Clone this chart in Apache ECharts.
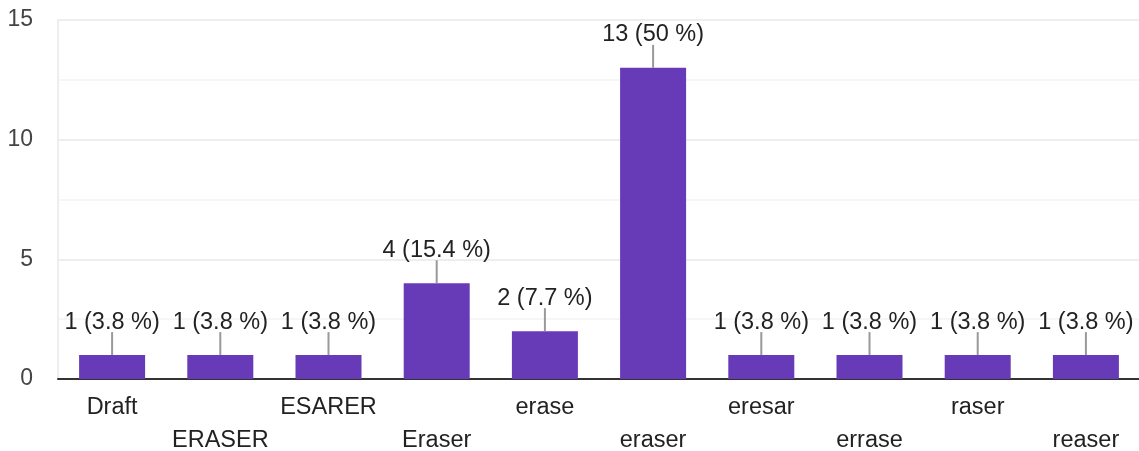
<!DOCTYPE html>
<html><head><meta charset="utf-8">
<script src="https://cdn.jsdelivr.net/npm/echarts@6/dist/echarts.min.js"></script>
<style>html,body{margin:0;padding:0;background:#fff}#c{width:1139px;height:451px}</style>
</head><body><div id="c"></div>
<script>
const categories = ['Draft','ERASER','ESARER','Eraser','erase','eraser','eresar','errase','raser','reaser'];
const counts = [1,1,1,4,2,13,1,1,1,1];
const percents = ['3.8','3.8','3.8','15.4','7.7','50','3.8','3.8','3.8','3.8'];
const yTicks = [0,5,10,15];

const FONT = '"Liberation Sans", Arial, sans-serif';
const chart = echarts.init(document.getElementById('c'));
chart.setOption({
  animation:false,
  textStyle:{fontFamily:FONT},
  grid:{left:58, top:20, height:359, width:1082, containLabel:false, outerBoundsMode:'none'},
  xAxis:{
    type:'category', data:categories,
    axisLine:{lineStyle:{color:'#333', width:2}},
    axisTick:{show:false},
    axisLabel:{interval:0, margin:12, fontSize:23.5, color:'#222', lineHeight:33, fontFamily:FONT,
      formatter:(v,i)=> i%2 ? '\n'+v : v}
  },
  yAxis:{
    type:'value', min:yTicks[0], max:yTicks[yTicks.length-1], interval:5,
    axisLine:{show:true, lineStyle:{color:'#eeeeee', width:2}},
    axisTick:{show:false},
    axisLabel:{fontSize:23, color:'#444', margin:25, fontFamily:FONT, padding:[4,0,0,0]},
    splitLine:{lineStyle:{color:'#eeeeee', width:2}},
    minorTick:{show:false, splitNumber:2},
    minorSplitLine:{show:true, lineStyle:{color:'#f6f6f6', width:2}}
  },
  series:[{
    type:'bar', data:counts, barWidth:66, z:3,
    itemStyle:{color:'#673ab7'},
    label:{show:true, position:'top', distance:21, fontSize:23.5, color:'#222', fontFamily:FONT,
      formatter:p=> p.value + ' (' + percents[p.dataIndex] + ' %)'}
  },{
    type:'custom', z:4,
    data:counts.map((v,i)=>[i,v]),
    renderItem:(params, api)=>{
      const p = api.coord([api.value(0), api.value(1)]);
      return {type:'line', shape:{x1:p[0], y1:p[1], x2:p[0], y2:p[1]-23},
        style:{stroke:'#999', lineWidth:2}};
    }
  }]
});
</script></body></html>
